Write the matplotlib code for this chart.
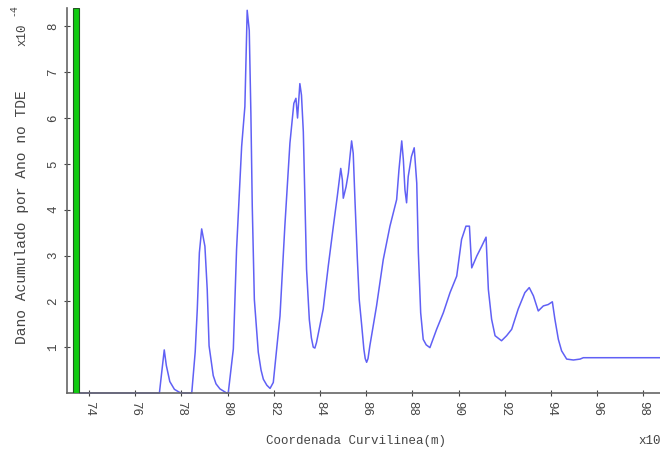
import matplotlib
matplotlib.use("Agg")
import matplotlib.pyplot as plt

# Curvilinear coordinate (x10 m) and accumulated damage (x1e-4)
coord = [73.6, 77.05, 77.15, 77.26, 77.35, 77.5, 77.7, 77.9, 78.0,
         78.45, 78.6, 78.69, 78.78, 78.88, 79.02, 79.12, 79.2, 79.38, 79.5, 79.67, 79.96,
         80.03, 80.25, 80.39, 80.61, 80.75, 80.85, 80.94, 81.01, 81.07, 81.16, 81.33,
         81.45, 81.55, 81.7, 81.84, 81.98, 82.27, 82.48, 82.7, 82.87, 82.96, 83.03, 83.13, 83.2,
         83.28, 83.35, 83.42, 83.54, 83.63, 83.71, 83.78, 83.85, 84.14, 84.36, 84.58, 84.75,
         84.9, 84.97, 85.01, 85.13, 85.23, 85.3, 85.37, 85.44, 85.52, 85.62, 85.7,
         85.81, 85.9, 85.96, 86.02, 86.08, 86.16, 86.45, 86.74, 87.03, 87.32, 87.42, 87.54, 87.61,
         87.68, 87.75, 87.82, 87.96, 88.08, 88.19, 88.26, 88.36, 88.47, 88.6, 88.76,
         89.05, 89.34, 89.63, 89.92, 90.13, 90.32, 90.47, 90.57, 90.79, 91.0, 91.19,
         91.29, 91.43, 91.58, 91.86, 92.08, 92.3, 92.58, 92.87, 93.06, 93.24, 93.45,
         93.67, 93.88, 94.06, 94.17, 94.32, 94.46, 94.68, 94.97, 95.26, 95.4, 98.72]
damage = [0.0, 0.0, 0.45, 0.94, 0.6, 0.25, 0.08, 0.02, 0.0,
          0.0, 0.9, 1.83, 3.06, 3.58, 3.2, 2.26, 1.03, 0.38, 0.2, 0.09, 0.0,
          0.0, 0.96, 3.13, 5.38, 6.25, 8.35, 7.91, 6.1, 4.07, 2.04, 0.89,
          0.5, 0.3, 0.17, 0.1, 0.23, 1.68, 3.64, 5.45, 6.32, 6.43, 6.0, 6.75, 6.5,
          5.7, 4.2, 2.7, 1.6, 1.2, 1.0, 0.98, 1.1, 1.83, 2.77, 3.64, 4.29,
          4.9, 4.65, 4.25, 4.5, 4.8, 5.16, 5.5, 5.23, 4.15, 2.91, 2.04,
          1.46, 0.96, 0.75, 0.67, 0.75, 1.03, 1.9, 2.91, 3.64, 4.22, 4.87, 5.5, 5.09,
          4.43, 4.15, 4.72, 5.16, 5.35, 4.58, 3.06, 1.75, 1.17, 1.05, 0.99,
          1.39, 1.75, 2.19, 2.55, 3.35, 3.64, 3.64, 2.73, 2.99, 3.2, 3.4,
          2.26, 1.61, 1.25, 1.14, 1.25, 1.39, 1.83, 2.19, 2.3, 2.12, 1.79,
          1.9, 1.93, 1.99, 1.61, 1.17, 0.92, 0.74, 0.72, 0.74, 0.77, 0.77]

marker_pos = [73.45]
marker_height = [8.4]

xticks = [74, 76, 78, 80, 82, 84, 86, 88, 90, 92, 94, 96, 98]
yticks = [1, 2, 3, 4, 5, 6, 7, 8]

font = "Liberation Mono"
plt.rcParams['font.family'] = [font, 'DejaVu Sans']

fig = plt.figure(figsize=(6.6, 4.5), dpi=100)
ax = fig.add_axes([67/660, 1 - 393/450, 1 - 67/660, (393 - 8)/450])

ax.bar(marker_pos, marker_height, width=0.26, color='#11cc11',
       edgecolor='#225522', linewidth=0.8, zorder=3)
ax.plot(coord, damage, color='#6060f5', lw=1.1, zorder=2, clip_on=False)

ax.set_xlim(73.05, 98.72)
ax.set_ylim(0, 8.4)
ax.set_xticks(xticks)
ax.set_yticks(yticks)
ax.set_xticklabels([str(t) for t in xticks], rotation=-90, fontsize=9, color='#444444')
ax.set_yticklabels([str(t) for t in yticks], rotation=90, fontsize=9, color='#444444',
                   va='center')
ax.tick_params(direction='inout', length=5, width=0.8, color='#444444', pad=3)

for s in ['top', 'right']:
    ax.spines[s].set_visible(False)
for s in ['left', 'bottom']:
    ax.spines[s].set_color('#666666')
    ax.spines[s].set_linewidth(1.2)

fig.text(356/660, 1 - 441/450, "Coordenada Curvilinea(m)", ha='center', va='center',
         fontsize=9, color='#444444')
fig.text(22/660, 1 - 217/450, "Dano Acumulado por Ano no TDE", ha='center', va='center',
         rotation=90, fontsize=10.5, color='#444444')
fig.text(650/660, 1 - 441/450, "x10", ha='center', va='center', fontsize=9, color='#444444')
fig.text(22/660, 1 - 35/450, "x10", ha='center', va='center', rotation=90,
         fontsize=9, color='#444444')
fig.text(13/660, 1 - 10/450, "-4", ha='center', va='center', rotation=90,
         fontsize=7, color='#444444')

fig.savefig("out.png", dpi=100)
